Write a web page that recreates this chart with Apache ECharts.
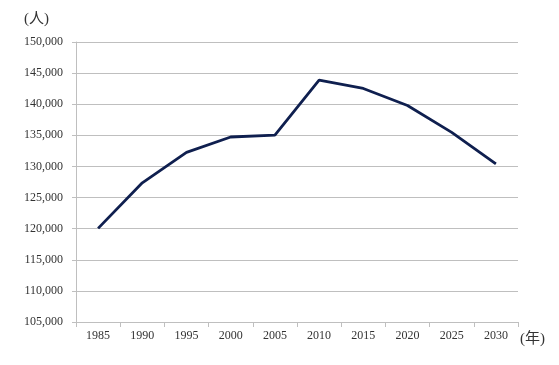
<!DOCTYPE html>
<html>
<head>
<meta charset="utf-8">
<script src="https://cdn.jsdelivr.net/npm/echarts@6/dist/echarts.min.js"></script>
<style>html,body{margin:0;padding:0;background:#fff}#c{width:559px;height:365px}</style>
</head>
<body>
<div id="c"></div>
<script>
const years = ['1985','1990','1995','2000','2005','2010','2015','2020','2025','2030'];
const population = [120050, 127370, 132260, 134730, 135030, 143870, 142530, 139800, 135480, 130430];
const yMin = 105000, yMax = 150000, yStep = 5000;
const yUnit = '(人)';
const xUnit = '(年)';

const serif = '"Liberation Serif", "DejaVu Serif", "Noto Sans CJK JP", serif';
const chart = echarts.init(document.getElementById('c'), null, {renderer: 'canvas'});
chart.setOption({
  animation: false,
  backgroundColor: '#fff',
  grid: {left: 76, right: 41, top: 42, bottom: 43, containLabel: false},
  xAxis: {
    type: 'category',
    data: years,
    boundaryGap: true,
    axisLine: {lineStyle: {color: '#bfbfbf', width: 1}},
    axisTick: {show: true, length: 5, alignWithLabel: false, lineStyle: {color: '#bfbfbf'}},
    axisLabel: {color: '#333', fontFamily: serif, fontSize: 12, margin: 8}
  },
  yAxis: {
    type: 'value',
    min: yMin, max: yMax, interval: yStep,
    axisLine: {show: true, lineStyle: {color: '#bfbfbf', width: 1}},
    axisTick: {show: true, length: 4, lineStyle: {color: '#bfbfbf'}},
    splitLine: {lineStyle: {color: '#bfbfbf', width: 1}},
    axisLabel: {
      color: '#333', fontFamily: serif, fontSize: 12, margin: 13,
      formatter: v => v.toLocaleString('en-US')
    }
  },
  graphic: [
    {type: 'text', left: 24, top: 12, style: {text: yUnit, fill: '#333', font: '15px ' + serif}},
    {type: 'text', left: 520, top: 332, style: {text: xUnit, fill: '#333', font: '15px ' + serif}}
  ],
  series: [{
    type: 'line',
    data: population,
    symbol: 'none',
    lineStyle: {color: '#0f1f4f', width: 2.8}
  }]
});
</script>
</body>
</html>
